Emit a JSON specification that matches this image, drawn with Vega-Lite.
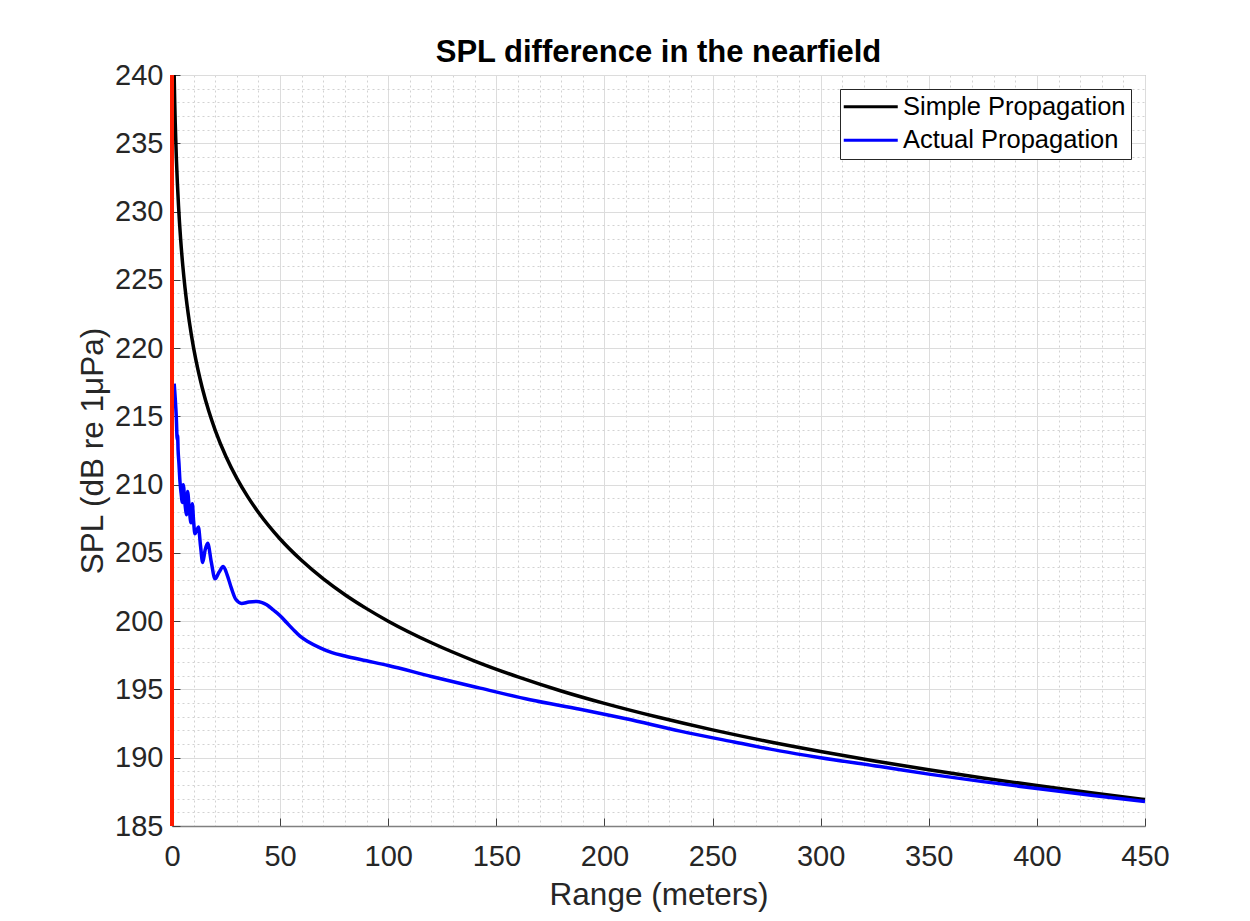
{
  "$schema": "https://vega.github.io/schema/vega-lite/v6.json",
  "width": 973,
  "height": 751,
  "autosize": {"type": "none"},
  "padding": {"left": 172, "top": 75, "right": 105, "bottom": 95},
  "background": "#ffffff",
  "config": {
    "font": "Liberation Sans",
    "view": {"stroke": "#9a9a9a", "strokeWidth": 1},
    "legend": {
      "orient": "top-right",
      "offset": 14,
      "labelFontSize": 25.5,
      "labelFont": "Liberation Sans",
      "labelColor": "#000000",
      "labelLimit": 400,
      "symbolType": "M-4,0H4",
      "symbolSize": 182.25,
      "symbolStrokeWidth": 3,
      "symbolOffset": 13,
      "labelOffset": 19.5,
      "padding": 5,
      "rowPadding": 6.5,
      "strokeColor": "#262626",
      "fillColor": "#ffffff",
      "cornerRadius": 0
    }
  },
  "title": {
    "text": "SPL difference in the nearfield",
    "fontSize": 31,
    "fontWeight": "bold",
    "font": "Liberation Sans",
    "color": "#000000",
    "anchor": "middle",
    "offset": -8
  },
  "datasets": {
    "curves": [
      {"series": "Simple Propagation", "range": 1, "spl": 240},
      {"series": "Simple Propagation", "range": 1.25, "spl": 238.06},
      {"series": "Simple Propagation", "range": 1.5, "spl": 236.48},
      {"series": "Simple Propagation", "range": 2, "spl": 233.98},
      {"series": "Simple Propagation", "range": 2.5, "spl": 232.04},
      {"series": "Simple Propagation", "range": 3, "spl": 230.46},
      {"series": "Simple Propagation", "range": 4, "spl": 227.96},
      {"series": "Simple Propagation", "range": 5, "spl": 226.02},
      {"series": "Simple Propagation", "range": 6, "spl": 224.44},
      {"series": "Simple Propagation", "range": 7, "spl": 223.1},
      {"series": "Simple Propagation", "range": 8, "spl": 221.94},
      {"series": "Simple Propagation", "range": 10, "spl": 220},
      {"series": "Simple Propagation", "range": 12, "spl": 218.42},
      {"series": "Simple Propagation", "range": 14, "spl": 217.08},
      {"series": "Simple Propagation", "range": 17, "spl": 215.39},
      {"series": "Simple Propagation", "range": 20, "spl": 213.98},
      {"series": "Simple Propagation", "range": 25, "spl": 212.04},
      {"series": "Simple Propagation", "range": 30, "spl": 210.46},
      {"series": "Simple Propagation", "range": 35, "spl": 209.12},
      {"series": "Simple Propagation", "range": 40, "spl": 207.96},
      {"series": "Simple Propagation", "range": 50, "spl": 206.02},
      {"series": "Simple Propagation", "range": 60, "spl": 204.44},
      {"series": "Simple Propagation", "range": 70, "spl": 203.1},
      {"series": "Simple Propagation", "range": 80, "spl": 201.94},
      {"series": "Simple Propagation", "range": 90, "spl": 200.92},
      {"series": "Simple Propagation", "range": 100, "spl": 200},
      {"series": "Simple Propagation", "range": 120, "spl": 198.42},
      {"series": "Simple Propagation", "range": 140, "spl": 197.08},
      {"series": "Simple Propagation", "range": 160, "spl": 195.92},
      {"series": "Simple Propagation", "range": 180, "spl": 194.89},
      {"series": "Simple Propagation", "range": 200, "spl": 193.98},
      {"series": "Simple Propagation", "range": 225, "spl": 192.96},
      {"series": "Simple Propagation", "range": 250, "spl": 192.04},
      {"series": "Simple Propagation", "range": 275, "spl": 191.21},
      {"series": "Simple Propagation", "range": 300, "spl": 190.46},
      {"series": "Simple Propagation", "range": 325, "spl": 189.76},
      {"series": "Simple Propagation", "range": 350, "spl": 189.12},
      {"series": "Simple Propagation", "range": 375, "spl": 188.52},
      {"series": "Simple Propagation", "range": 400, "spl": 187.96},
      {"series": "Simple Propagation", "range": 425, "spl": 187.43},
      {"series": "Simple Propagation", "range": 450, "spl": 186.94},
      {"series": "Actual Propagation", "range": 1.0, "spl": 217.4},
      {"series": "Actual Propagation", "range": 1.5, "spl": 216.3},
      {"series": "Actual Propagation", "range": 2.0, "spl": 214.9},
      {"series": "Actual Propagation", "range": 2.4, "spl": 213.3},
      {"series": "Actual Propagation", "range": 2.6, "spl": 213.6},
      {"series": "Actual Propagation", "range": 2.8, "spl": 212.6},
      {"series": "Actual Propagation", "range": 3.2, "spl": 211.6},
      {"series": "Actual Propagation", "range": 3.7, "spl": 210.2},
      {"series": "Actual Propagation", "range": 4.2, "spl": 209.4},
      {"series": "Actual Propagation", "range": 4.8, "spl": 208.7},
      {"series": "Actual Propagation", "range": 5.2, "spl": 210.0},
      {"series": "Actual Propagation", "range": 6.0, "spl": 208.6},
      {"series": "Actual Propagation", "range": 6.8, "spl": 207.8},
      {"series": "Actual Propagation", "range": 7.2, "spl": 209.5},
      {"series": "Actual Propagation", "range": 8.0, "spl": 208.2},
      {"series": "Actual Propagation", "range": 8.8, "spl": 207.2},
      {"series": "Actual Propagation", "range": 9.4, "spl": 208.6},
      {"series": "Actual Propagation", "range": 10.0, "spl": 207.3},
      {"series": "Actual Propagation", "range": 10.6, "spl": 206.4},
      {"series": "Actual Propagation", "range": 11.3, "spl": 206.6},
      {"series": "Actual Propagation", "range": 12.2, "spl": 206.9},
      {"series": "Actual Propagation", "range": 13.2, "spl": 205.5},
      {"series": "Actual Propagation", "range": 14.2, "spl": 204.3},
      {"series": "Actual Propagation", "range": 15.3, "spl": 205.2},
      {"series": "Actual Propagation", "range": 16.5, "spl": 205.7},
      {"series": "Actual Propagation", "range": 18.2, "spl": 204.3},
      {"series": "Actual Propagation", "range": 19.9, "spl": 203.1},
      {"series": "Actual Propagation", "range": 21.8, "spl": 203.6},
      {"series": "Actual Propagation", "range": 23.7, "spl": 204.0},
      {"series": "Actual Propagation", "range": 25.5, "spl": 203.4},
      {"series": "Actual Propagation", "range": 27.5, "spl": 202.4},
      {"series": "Actual Propagation", "range": 29.5, "spl": 201.6},
      {"series": "Actual Propagation", "range": 32.2, "spl": 201.3},
      {"series": "Actual Propagation", "range": 35.5, "spl": 201.4},
      {"series": "Actual Propagation", "range": 39.2, "spl": 201.45},
      {"series": "Actual Propagation", "range": 43.8, "spl": 201.2},
      {"series": "Actual Propagation", "range": 47, "spl": 200.8},
      {"series": "Actual Propagation", "range": 50, "spl": 200.4},
      {"series": "Actual Propagation", "range": 53, "spl": 199.9},
      {"series": "Actual Propagation", "range": 56, "spl": 199.4},
      {"series": "Actual Propagation", "range": 59.2, "spl": 198.9},
      {"series": "Actual Propagation", "range": 63, "spl": 198.5},
      {"series": "Actual Propagation", "range": 68.5, "spl": 198.05},
      {"series": "Actual Propagation", "range": 74, "spl": 197.7},
      {"series": "Actual Propagation", "range": 80, "spl": 197.45},
      {"series": "Actual Propagation", "range": 90, "spl": 197.1},
      {"series": "Actual Propagation", "range": 100, "spl": 196.75},
      {"series": "Actual Propagation", "range": 120, "spl": 195.95},
      {"series": "Actual Propagation", "range": 142.5, "spl": 195.1},
      {"series": "Actual Propagation", "range": 165.6, "spl": 194.25},
      {"series": "Actual Propagation", "range": 188.7, "spl": 193.55},
      {"series": "Actual Propagation", "range": 210, "spl": 192.85},
      {"series": "Actual Propagation", "range": 235, "spl": 191.95},
      {"series": "Actual Propagation", "range": 260, "spl": 191.15},
      {"series": "Actual Propagation", "range": 281, "spl": 190.5},
      {"series": "Actual Propagation", "range": 300, "spl": 190.0},
      {"series": "Actual Propagation", "range": 327.5, "spl": 189.35},
      {"series": "Actual Propagation", "range": 350, "spl": 188.8},
      {"series": "Actual Propagation", "range": 375, "spl": 188.25},
      {"series": "Actual Propagation", "range": 400, "spl": 187.75},
      {"series": "Actual Propagation", "range": 425, "spl": 187.25},
      {"series": "Actual Propagation", "range": 450, "spl": 186.8}
    ],
    "marker": [
      {"range": 0, "spl": 185},
      {"range": 0, "spl": 240}
    ]
  },
  "layer": [
    {
      "data": {"name": "curves"},
      "mark": {"type": "point", "opacity": 0},
      "encoding": {
        "x": {
          "field": "range", "type": "quantitative",
          "scale": {"domain": [0, 450], "nice": false, "zero": false},
          "axis": {
            "orient": "bottom",
            "values": [10,20,30,40,60,70,80,90,110,120,130,140,160,170,180,190,210,220,230,240,260,270,280,290,310,320,330,340,360,370,380,390,410,420,430,440],
            "grid": true, "gridColor": "#d2d2d2", "gridDash": [2, 3], "gridWidth": 1,
            "labels": false, "ticks": false, "domain": false, "title": null
          }
        },
        "y": {
          "field": "spl", "type": "quantitative",
          "scale": {"domain": [185, 240], "nice": false, "zero": false},
          "axis": {
            "orient": "left",
            "values": [186,187,188,189,191,192,193,194,196,197,198,199,201,202,203,204,206,207,208,209,211,212,213,214,216,217,218,219,221,222,223,224,226,227,228,229,231,232,233,234,236,237,238,239],
            "grid": true, "gridColor": "#d2d2d2", "gridDash": [2, 3], "gridWidth": 1,
            "labels": false, "ticks": false, "domain": false, "title": null
          }
        }
      }
    },
    {
      "data": {"name": "curves"},
      "mark": {"type": "line", "strokeWidth": 3.5, "interpolate": "monotone"},
      "encoding": {
        "x": {
          "field": "range", "type": "quantitative",
          "axis": {
            "orient": "bottom",
            "values": [0,50,100,150,200,250,300,350,400,450],
            "grid": true, "gridColor": "#dcdcdc", "gridWidth": 1,
            "ticks": true, "tickSize": -8, "tickColor": "#404040", "tickWidth": 1,
            "domain": true, "domainColor": "#808080", "domainWidth": 1.5,
            "labelFontSize": 29, "labelColor": "#262626", "labelPadding": 24,
            "labelFlush": false,
            "labelFont": "Liberation Sans",
            "title": "Range (meters)", "titleFontSize": 31.5, "titleFontWeight": "normal",
            "titleColor": "#262626", "titlePadding": 8, "titleFont": "Liberation Sans"
          }
        },
        "y": {
          "field": "spl", "type": "quantitative",
          "axis": {
            "orient": "left",
            "values": [185,190,195,200,205,210,215,220,225,230,235,240],
            "grid": true, "gridColor": "#dcdcdc", "gridWidth": 1,
            "ticks": true, "tickSize": -8, "tickColor": "#404040", "tickWidth": 1,
            "domain": true, "domainColor": "#808080", "domainWidth": 1.5,
            "labelFontSize": 29, "labelColor": "#262626", "labelPadding": 17,
            "labelFlush": false,
            "labelFont": "Liberation Sans",
            "title": "SPL (dB re 1μPa)", "titleFontSize": 31.5, "titleFontWeight": "normal",
            "titleColor": "#262626", "titlePadding": 5, "titleFont": "Liberation Sans"
          }
        },
        "color": {
          "field": "series", "type": "nominal",
          "scale": {"domain": ["Simple Propagation", "Actual Propagation"], "range": ["#000000", "#0000ff"]},
          "legend": {"title": null}
        }
      }
    },
    {
      "data": {"name": "marker"},
      "mark": {"type": "line", "strokeWidth": 4, "color": "#ff1a00"},
      "encoding": {
        "x": {"field": "range", "type": "quantitative", "axis": null},
        "y": {"field": "spl", "type": "quantitative", "axis": null}
      }
    }
  ],
  "resolve": {"axis": {"x": "independent", "y": "independent"}}
}
